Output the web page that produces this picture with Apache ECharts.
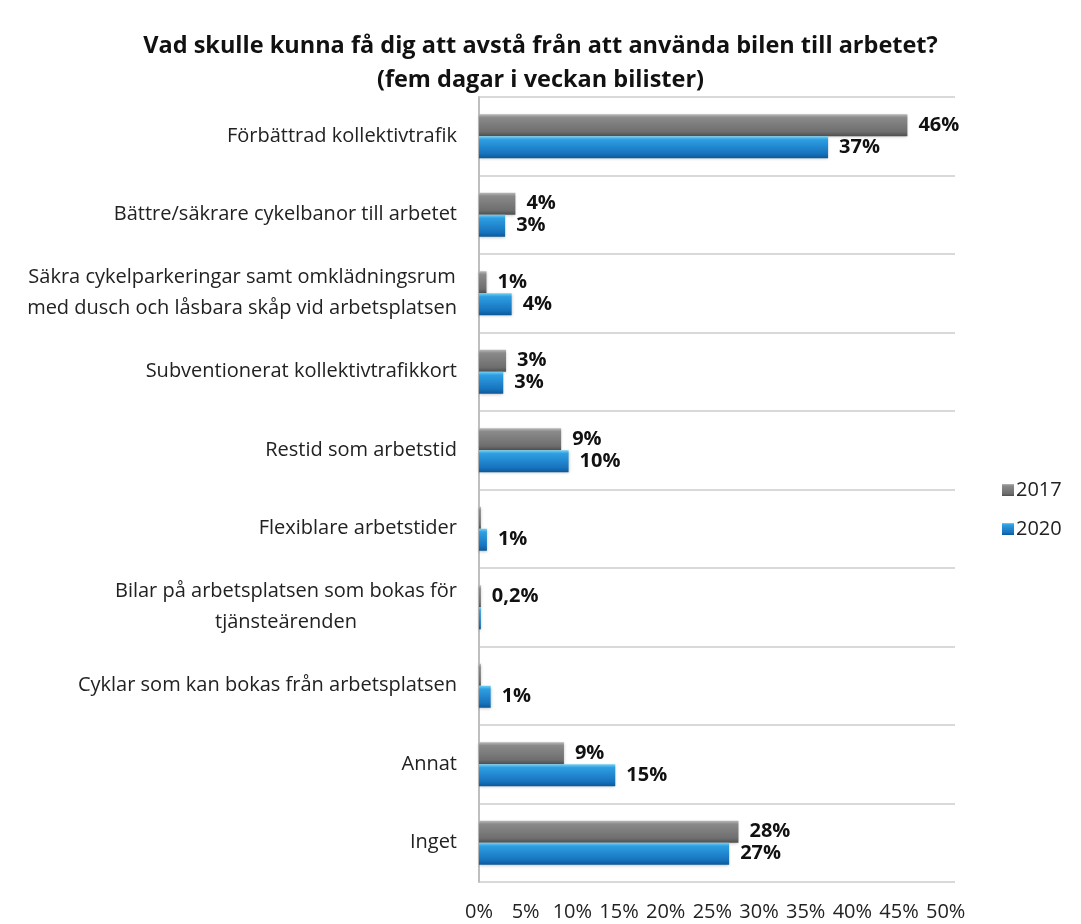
<!DOCTYPE html>
<html>
<head>
<meta charset="utf-8">
<script src="https://cdn.jsdelivr.net/npm/echarts@6/dist/echarts.min.js"></script>
<style>
html,body{margin:0;padding:0;background:#fff;}
#chart{width:1081px;height:924px;}
</style>
</head>
<body>
<div id="chart"></div>
<script>
const categories = [
  "Förbättrad kollektivtrafik",
  "Bättre/säkrare cykelbanor till arbetet",
  "Säkra cykelparkeringar samt omklädningsrum\nmed dusch och låsbara skåp vid arbetsplatsen",
  "Subventionerat kollektivtrafikkort",
  "Restid som arbetstid",
  "Flexiblare arbetstider",
  "Bilar på arbetsplatsen som bokas för\ntjänsteärenden",
  "Cyklar som kan bokas från arbetsplatsen",
  "Annat",
  "Inget"
];
const seriesNames = ["2017", "2020"];
const values2017 = [45.9, 3.9, 0.8, 2.9, 8.8, 0.2, 0.2, 0.2, 9.1, 27.8];
const values2020 = [37.4, 2.8, 3.5, 2.6, 9.6, 0.85, 0.2, 1.25, 14.6, 26.8];
const labels2017 = ["46%", "4%", "1%", "3%", "9%", "", "0,2%", "", "9%", "28%"];
const labels2020 = ["37%", "3%", "4%", "3%", "10%", "1%", "", "1%", "15%", "27%"];
const tickValues = [0, 5, 10, 15, 20, 25, 30, 35, 40, 45, 50];

const FONT = "'Open Sans', 'Noto Sans', sans-serif";

const grayGrad = new echarts.graphic.LinearGradient(0, 0, 0, 1, [
  {offset: 0, color: '#b8b8b8'},
  {offset: 0.15, color: '#8a8a8a'},
  {offset: 0.8, color: '#6e6e6e'},
  {offset: 1, color: '#4e4e4e'}
]);
const blueGrad = new echarts.graphic.LinearGradient(0, 0, 0, 1, [
  {offset: 0, color: '#74d0f5'},
  {offset: 0.15, color: '#2e9fe2'},
  {offset: 0.8, color: '#1672bd'},
  {offset: 1, color: '#0c5896'}
]);

function mkData(vals, labs) {
  return vals.map((v, i) => ({
    value: v,
    label: {show: labs[i] !== "", formatter: labs[i]}
  }));
}

const chart = echarts.init(document.getElementById('chart'), null, {renderer: 'canvas'});
chart.setOption({
  animation: false,
  backgroundColor: '#ffffff',
  title: {
    text: "Vad skulle kunna få dig att avstå från att använda bilen till arbetet?\n(fem dagar i veckan bilister)",
    left: 'center',
    top: 24,
    textStyle: {fontFamily: FONT, fontWeight: 'bold', fontSize: 23.5, color: '#111', lineHeight: 34}
  },
  legend: {
    orient: 'vertical',
    left: 997,
    top: 475,
    itemGap: 19,
    itemWidth: 12,
    itemHeight: 12,
    icon: 'rect',
    textStyle: {fontFamily: FONT, fontSize: 20, color: '#222', padding: [0, 0, 0, -3]},
    data: seriesNames
  },
  grid: {left: 479, right: 126, top: 97, bottom: 42, containLabel: false},
  xAxis: {
    type: 'value',
    min: 0,
    max: 51,
    interval: 5,
    axisLine: {show: false},
    axisTick: {show: false},
    splitLine: {show: false},
    axisLabel: {
      margin: 20,
      fontFamily: FONT,
      fontSize: 20,
      color: '#222',
      showMaxLabel: false,
      formatter: v => (tickValues.indexOf(v) >= 0 ? v + '%' : '')
    }
  },
  yAxis: {
    type: 'category',
    inverse: true,
    data: categories,
    axisLine: {show: true, lineStyle: {color: '#bfbfbf', width: 2}},
    axisTick: {show: false},
    splitLine: {show: true, lineStyle: {color: '#d9d9d9', width: 2}},
    axisLabel: {
      margin: 22,
      align: 'right',
      fontFamily: FONT,
      fontSize: 20,
      color: '#222',
      lineHeight: 31,
      formatter: v => v.split('\n').map(s => '{c|' + s + '}').join('\n'),
      rich: {c: {align: 'center', fontFamily: FONT, fontSize: 20, color: '#222', lineHeight: 31}}
    }
  },
  series: [
    {
      name: seriesNames[0],
      type: 'bar',
      data: mkData(values2017, labels2017),
      barWidth: 22,
      barGap: '0%',
      itemStyle: {color: grayGrad, shadowColor: 'rgba(0,0,0,0.25)', shadowBlur: 3, shadowOffsetY: 1},
      label: {position: 'right', distance: 11, fontFamily: FONT, fontWeight: 'bold', fontSize: 20, color: '#111'}
    },
    {
      name: seriesNames[1],
      type: 'bar',
      data: mkData(values2020, labels2020),
      barWidth: 22,
      barGap: '0%',
      itemStyle: {color: blueGrad, shadowColor: 'rgba(0,0,0,0.25)', shadowBlur: 3, shadowOffsetY: 1},
      label: {position: 'right', distance: 11, fontFamily: FONT, fontWeight: 'bold', fontSize: 20, color: '#111'}
    }
  ]
});
</script>
</body>
</html>
